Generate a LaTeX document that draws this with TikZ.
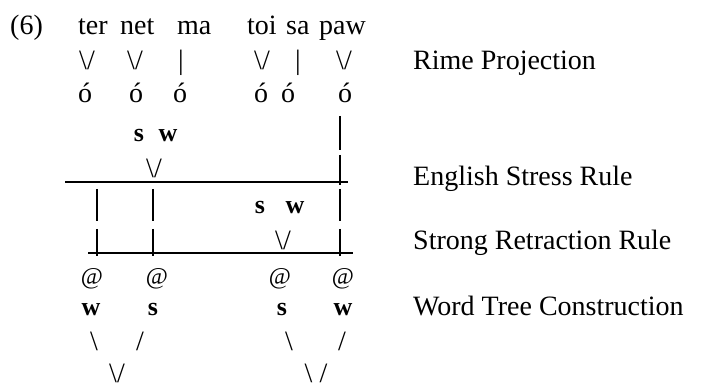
\documentclass[tikz,border=0pt]{standalone}
\usepackage{fontspec}
\setmainfont{Liberation Serif}
\usetikzlibrary{positioning}

\begin{document}
\begin{tikzpicture}[x=1pt,y=-1pt,
			every node/.style={inner sep=0pt,anchor=base,font=\fontsize{28}{34}\selectfont},
			lbl/.style={anchor=base west},
			sw/.style={font=\fontsize{26}{30}\selectfont\bfseries},
			wsym/.style={font=\fontsize{24}{30}\selectfont},
			rule/.style={line width=1.3pt}]
			\useasboundingbox (0,0) rectangle (710,390);
			
			\node[lbl] (ex) at (10,35) {(6)};
			\node[lbl] (ter) at (78,35) {ter};
			\node[lbl] (net) at (120,35) {net};
			\node[lbl] (ma) at (177,35) {ma};
			\node[lbl] (toi) at (247,35) {toi};
			\node[lbl] (sa) at (286,35) {sa};
			\node[lbl] (paw) at (319,35) {paw};
			
			\node (vter) at (87,70) {\textbackslash/};
			\node (vnet) at (135,70) {\textbackslash/};
			\node (bma) at (181,70) {\textbar};
			\node (vtoi) at (262,70) {\textbackslash/};
			\node (bsa) at (298,70) {\textbar};
			\node (vpaw) at (344,70) {\textbackslash/};
			
			\node (oter) at (85,103) {ó};
			\node (onet) at (136,103) {ó};
			\node (oma) at (180,103) {ó};
			\node (otoi) at (261,103) {ó};
			\node (osa) at (288,103) {ó};
			\node (opaw) at (345,103) {ó};
			
			\node[sw] (sa1) at (139,142) {s};
			\node[sw] (wa1) at (168,142) {w};
			\node (va1) at (154,178) {\textbackslash/};
			
			\node[sw] (sb1) at (260,214) {s};
			\node[sw] (wb1) at (295,214) {w};
			\node (vb1) at (283,250) {\textbackslash/};
			
			\coordinate (esl) at (65,182);
			\coordinate (esr) at (348,182);
			\coordinate (srl) at (88,253);
			\coordinate (srr) at (353,253);
			\draw[rule] (esl) -- (esr);
			\draw[rule] (srl) -- (srr);
			
			% vertical bars
			\draw[rule] (340,116) -- (340,150) (340,155) -- (340,185);
			\foreach \bx in {97,153,340}
			{
				\draw[rule] (\bx,189) -- (\bx,221) (\bx,229) -- (\bx,256);
			}
			
			\node[wsym] (wdter) at (92,284) {@};
			\node[wsym] (wdnet) at (157,284) {@};
			\node[wsym] (wdtoi) at (280,284) {@};
			\node[wsym] (wdpaw) at (343,284) {@};
			
			\node[sw] (w2l) at (91,316) {w};
			\node[sw] (s2l) at (153,316) {s};
			\node[sw] (s2r) at (282,316) {s};
			\node[sw] (w2r) at (343,316) {w};
			
			\node (bsl) at (94,350) {\textbackslash};
			\node (fsl) at (140,350) {/};
			\node (bsr) at (289,350) {\textbackslash};
			\node (fsr) at (342,350) {/};
			
			\node (topl) at (117,382) {\textbackslash/};
			\node (topr) at (316,382) {\textbackslash\ /};
			
			\node[lbl] (rime) at (413,70) {Rime Projection};
			\node[lbl] (esrule) at (413,186) {English Stress Rule};
			\node[lbl] (srrule) at (413,250) {Strong Retraction Rule};
			\node[lbl] (wtc) at (413,316) {Word Tree Construction};
		\end{tikzpicture}
\end{document}
